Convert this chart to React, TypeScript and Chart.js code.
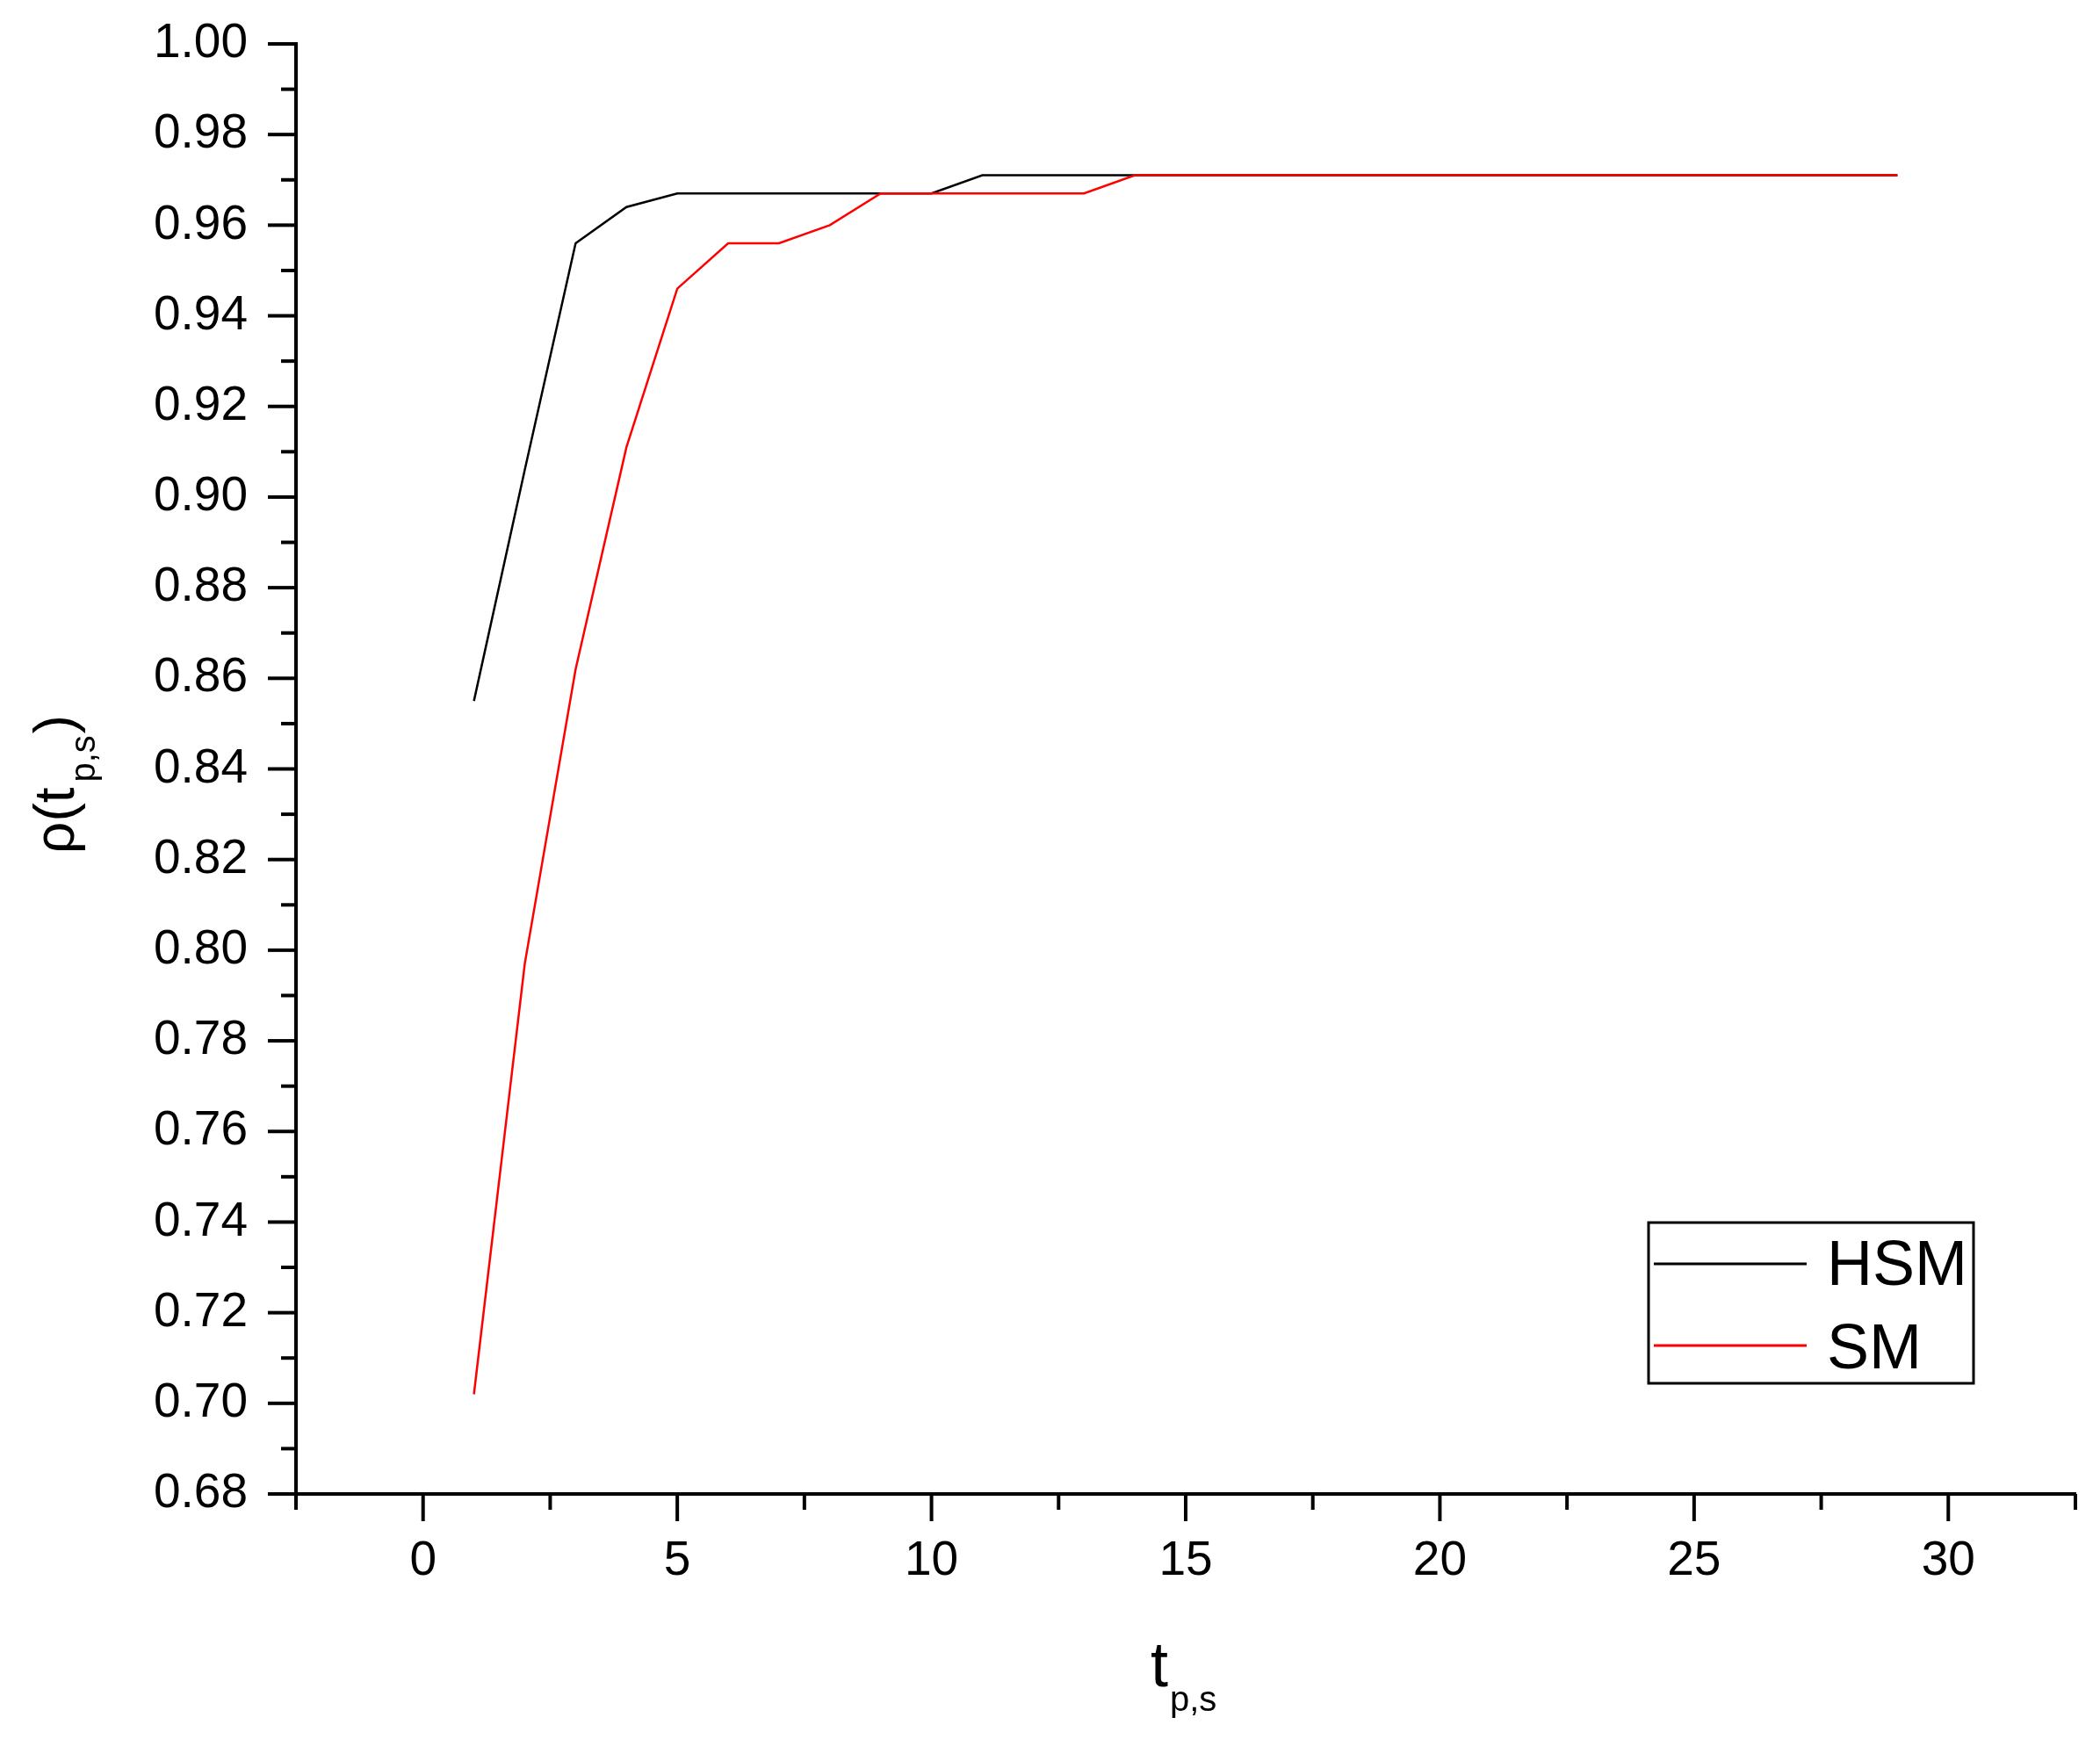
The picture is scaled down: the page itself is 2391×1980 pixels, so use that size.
import React, { useEffect, useRef } from "react";
import { Chart, registerables } from "chart.js";

Chart.register(...registerables);

const tValues = [1, 2, 3, 4, 5, 6, 7, 8, 9, 10, 11, 12, 13, 14, 15, 16, 17, 18, 19, 20, 21, 22, 23, 24, 25, 26, 27, 28, 29];
const hsmValues = [0.855, 0.906, 0.956, 0.964, 0.967, 0.967, 0.967, 0.967, 0.967, 0.967, 0.971, 0.971, 0.971, 0.971, 0.971, 0.971, 0.971, 0.971, 0.971, 0.971, 0.971, 0.971, 0.971, 0.971, 0.971, 0.971, 0.971, 0.971, 0.971];
const smValues = [0.702, 0.797, 0.862, 0.911, 0.946, 0.956, 0.956, 0.960, 0.967, 0.967, 0.967, 0.967, 0.967, 0.971, 0.971, 0.971, 0.971, 0.971, 0.971, 0.971, 0.971, 0.971, 0.971, 0.971, 0.971, 0.971, 0.971, 0.971, 0.971];
const seriesNames = ["HSM", "SM"];
const seriesColors = ["#000000", "#ff0000"];

const FONT = "'Liberation Sans', Arial, sans-serif";

const isMultiple = (v: number, m: number) => Math.abs(v / m - Math.round(v / m)) < 1e-6;

const ticksPlugin = {
  id: "originTicks",
  afterDraw(chart: any) {
    const ctx = chart.ctx;
    const xs = chart.scales.x;
    const ys = chart.scales.y;
    ctx.save();
    ctx.strokeStyle = "#000";
    ctx.lineWidth = 4;
    ctx.lineCap = "butt";
    xs.ticks.forEach((t: any) => {
      const px = xs.getPixelForValue(t.value);
      const len = isMultiple(t.value, 5) ? 31 : 18;
      ctx.beginPath();
      ctx.moveTo(px, xs.top);
      ctx.lineTo(px, xs.top + len);
      ctx.stroke();
    });
    ys.ticks.forEach((t: any) => {
      const py = ys.getPixelForValue(t.value);
      const len = isMultiple(Math.round(t.value * 100), 2) ? 32 : 17;
      ctx.beginPath();
      ctx.moveTo(ys.right, py);
      ctx.lineTo(ys.right - len, py);
      ctx.stroke();
    });
    ctx.restore();
  },
};

const titlesPlugin = {
  id: "axisTitles",
  afterDraw(chart: any) {
    const ctx = chart.ctx;
    ctx.save();
    ctx.fillStyle = "#000";
    ctx.textBaseline = "alphabetic";
    ctx.textAlign = "left";
    // x title: t_{p,s}
    ctx.font = `72px ${FONT}`;
    ctx.fillText("t", 1310, 1920);
    ctx.font = `40px ${FONT}`;
    ctx.fillText("p,s", 1332, 1948);
    // y title: rho(t_{p,s})
    ctx.translate(84, 972);
    ctx.rotate(-Math.PI / 2);
    ctx.font = `64px ${FONT}`;
    const main = "ρ(t";
    ctx.fillText(main, 0, 0);
    const w1 = ctx.measureText(main).width;
    ctx.font = `40px ${FONT}`;
    const sub = "p,s";
    ctx.fillText(sub, w1 + 6, 24);
    const w2 = ctx.measureText(sub).width;
    ctx.font = `64px ${FONT}`;
    ctx.fillText(")", w1 + w2 + 8, 0);
    ctx.restore();
  },
};

const legendPlugin = {
  id: "boxLegend",
  afterDraw(chart: any) {
    const ctx = chart.ctx;
    const left = 1877, top = 1392, right = 2247, bottom = 1575;
    ctx.save();
    ctx.fillStyle = "#fff";
    ctx.fillRect(left, top, right - left, bottom - top);
    ctx.strokeStyle = "#000";
    ctx.lineWidth = 3;
    ctx.strokeRect(left, top, right - left, bottom - top);
    const rowsY = [1439, 1532];
    const textY = [1463, 1558];
    chart.data.datasets.forEach((ds: any, i: number) => {
      ctx.strokeStyle = ds.borderColor;
      ctx.lineWidth = 3;
      ctx.beginPath();
      ctx.moveTo(1883, rowsY[i]);
      ctx.lineTo(2057, rowsY[i]);
      ctx.stroke();
      ctx.fillStyle = "#000";
      ctx.font = `72px ${FONT}`;
      ctx.textBaseline = "alphabetic";
      ctx.textAlign = "left";
      ctx.fillText(ds.label, 2080, textY[i]);
    });
    ctx.restore();
  },
};

export default function App() {
  const ref = useRef<HTMLCanvasElement | null>(null);
  useEffect(() => {
    if (!ref.current) return;
    const chart = new Chart(ref.current, {
      type: "line",
      data: {
        datasets: [
          {
            label: seriesNames[0],
            data: tValues.map((t, i) => ({ x: t, y: hsmValues[i] })),
            borderColor: seriesColors[0],
            borderWidth: 2.5,
            pointRadius: 0,
            fill: false,
            tension: 0,
            order: 2,
          },
          {
            label: seriesNames[1],
            data: tValues.map((t, i) => ({ x: t, y: smValues[i] })),
            borderColor: seriesColors[1],
            borderWidth: 2.5,
            pointRadius: 0,
            fill: false,
            tension: 0,
            order: 1,
          },
        ],
      },
      options: {
        animation: false,
        responsive: false,
        maintainAspectRatio: false,
        layout: { padding: { left: 0, right: 28, top: 50, bottom: 0 } },
        plugins: { legend: { display: false }, tooltip: { enabled: false }, title: { display: false } },
        scales: {
          x: {
            type: "linear",
            min: -2.5,
            max: 32.5,
            grid: { display: false, drawTicks: false },
            border: { display: true, color: "#000", width: 4 },
            ticks: {
              stepSize: 2.5,
              autoSkip: false,
              maxRotation: 0,
              padding: 44,
              color: "#000",
              font: { family: FONT, size: 55 },
              callback: (v: any) => (isMultiple(Number(v), 5) ? String(Math.round(Number(v))) : ""),
            },
            afterFit: (s: any) => {
              s.height = 279;
              s.paddingLeft = 0;
              s.paddingRight = 0;
            },
          },
          y: {
            type: "linear",
            min: 0.68,
            max: 1.0,
            grid: { display: false, drawTicks: false },
            border: { display: true, color: "#000", width: 4 },
            ticks: {
              stepSize: 0.01,
              autoSkip: false,
              padding: 55,
              color: "#000",
              font: { family: FONT, size: 55 },
              callback: (v: any) => {
                const n = Math.round(Number(v) * 100);
                return n % 2 === 0 ? (n / 100).toFixed(2) : "";
              },
            },
            afterFit: (s: any) => {
              s.width = 337;
              s.paddingTop = 0;
              s.paddingBottom = 0;
            },
          },
        },
      },
      plugins: [ticksPlugin, titlesPlugin, legendPlugin],
    });
    return () => chart.destroy();
  }, []);
  return (
    <div style={{ position: "fixed", left: 0, top: 0, width: 2391, height: 1980, background: "#fff" }}>
      <canvas ref={ref} width={2391} height={1980} style={{ display: "block" }} />
    </div>
  );
}
